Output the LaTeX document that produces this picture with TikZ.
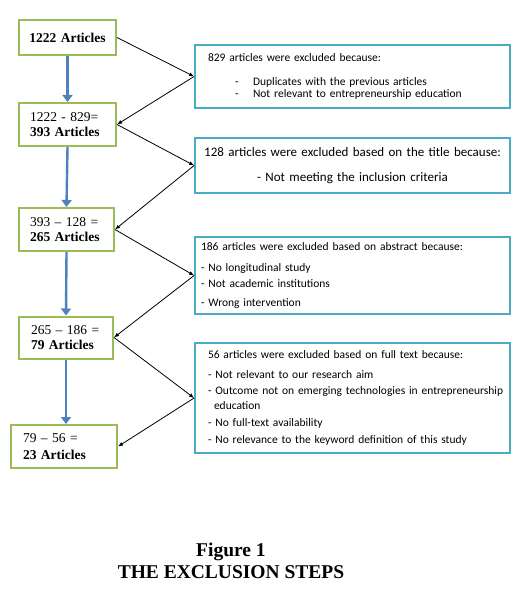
\documentclass[tikz,border=0pt]{standalone}
\usepackage{fontspec}
\setmainfont{Liberation Serif}
\newfontfamily\calib{Carlito}
\usetikzlibrary{arrows.meta,positioning}
\definecolor{olive}{HTML}{9BBB59}
\definecolor{aqua}{HTML}{4BACC6}
\definecolor{steel}{HTML}{4F81BD}

\begin{document}
\begin{tikzpicture}[x=1pt,y=-1pt,
stage/.style={draw=olive,line width=2pt,fill=white,align=left,inner xsep=11pt,inner ysep=0pt,text width=#1,font=\fontsize{13.5}{15}\selectfont},
stage/.default=75pt,
exbox/.style={draw=aqua,line width=1.8pt,fill=white,align=left,inner xsep=13pt,inner ysep=0pt,text width=289pt,font=\calib\fontsize{11.5}{16.5}\selectfont},
arr/.style={-{Latex[length=5pt,width=4pt]},line width=0.8pt},
flow/.style={-{Triangle[length=7pt,width=10pt]},line width=2.4pt,color=steel}
]
\useasboundingbox (0,0) rectangle (523,593);
% counts, left column
\node[stage=87pt,inner xsep=5pt,align=center,minimum height=35pt] (n1) at (67.5,37.5) {\textbf{1222 Articles}};
\node[stage,minimum height=43pt] (n2) at (67.5,124.5) {1222 - 829=\\\textbf{393 Articles}};
\node[stage=73pt,minimum height=43pt] (n3) at (66.5,229.5) {393 – 128 =\\\textbf{265 Articles}};
\node[stage=70pt,inner xsep=12pt,minimum height=42pt] (n4) at (66,337.5) {265 – 186 =\\\textbf{79 Articles}};
\node[stage=82pt,inner xsep=12pt,minimum height=43pt] (n5) at (64,446.5) {79 – 56 =\\[2pt]\textbf{23 Articles}};
% reasons, right column
\node[exbox,minimum height=63pt] (ex1) at (352.5,76.5) {829 articles were excluded because:\\[7.5pt]
\hspace*{27pt}\makebox[18pt][l]{-}Duplicates with the previous articles\\[-5pt]
\hspace*{27pt}\makebox[18pt][l]{-}Not relevant to entrepreneurship education};
\node[exbox,align=center,text width=305pt,inner xsep=5pt,font=\calib\fontsize{13}{25}\selectfont,minimum height=55pt] (ex2) at (352.5,165.5) {128 articles were excluded based on the title because:\\- Not meeting the inclusion criteria};
\node[exbox,inner xsep=6pt,text width=303pt,minimum height=77pt] (ex3) at (352.5,275.5) {186 articles were excluded based on abstract because:\\[4.5pt]
- No longitudinal study\\
- Not academic institutions\\[2.5pt]
- Wrong intervention};
\node[exbox,minimum height=110pt] (ex4) at (352.5,398) {56 articles were excluded based on full text because:\\[3.5pt]
- Not relevant to our research aim\\
\mbox{- Outcome not on emerging technologies in entrepreneurship}\\[-1.5pt]
\hspace*{6pt}education\\[0.5pt]
- No full-text availability\\[0.5pt]
- No relevance to the keyword definition of this study};
% main flow
\draw[flow] (n1.south)--(n2.north);
\draw[flow] (n2.south)--(n3.north);
\draw[flow] (n3.south)--(n4.north);
\draw[flow] (n4.south)--(n4.south|-n5.north);
% out and back
\draw[arr] (n1.east)--(ex1.west);
\draw[arr] (ex1.west)--(n2.east);
\draw[arr] (n2.east)--(ex2.west);
\draw[arr] (ex2.west)--(n3.east);
\draw[arr] (n3.east)--(ex3.west);
\draw[arr] (ex3.west)--(n4.east);
\draw[arr] (n4.east)--(ex4.west);
\draw[arr] (ex4.west)--(n5.east);
\node[font=\bfseries\fontsize{19.5}{22}\selectfont,align=center] (cap) at (231,561) {Figure 1\\THE EXCLUSION STEPS};
\end{tikzpicture}
\end{document}
